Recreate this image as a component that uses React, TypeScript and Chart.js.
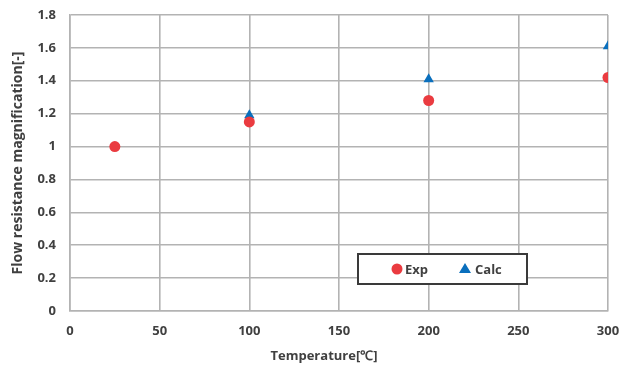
import React, { useEffect, useRef } from "react";
import { Chart, registerables } from "chart.js";

Chart.register(...registerables);

const expTemps = [25, 100, 200, 300];
const expValues = [1.0, 1.15, 1.28, 1.42];
const calcTemps = [100, 200, 300];
const calcValues = [1.19, 1.41, 1.61];
const xTitle = "Temperature[℃]";
const yTitle = "Flow resistance magnification[-]";

const RED = "#ea3b40";
const BLUE = "#0a6fbd";
const GRID = "#b3b3b3";
const TEXT = "#404040";
const FONT = "'Open Sans', Lato, sans-serif";

const legendPlugin = {
  id: "boxLegend",
  afterDraw(chart: any) {
    const { ctx, chartArea } = chart;
    ctx.save();
    ctx.fillStyle = TEXT;
    ctx.font = `bold 13px ${FONT}`;
    ctx.textAlign = "center";
    ctx.textBaseline = "middle";
    ctx.fillText(xTitle, chartArea.left + 254, 356);
    ctx.restore();

    const left = chartArea.left + 288;
    const top = chartArea.top + 239;
    const w = 169;
    const h = 30;
    ctx.save();
    ctx.fillStyle = "#ffffff";
    ctx.fillRect(left, top, w, h);
    ctx.strokeStyle = "#3a3a3a";
    ctx.lineWidth = 2;
    ctx.strokeRect(left, top, w, h);
    const cy = top + h / 2;
    ctx.fillStyle = RED;
    ctx.beginPath();
    ctx.arc(left + 39, cy, 5.5, 0, Math.PI * 2);
    ctx.fill();
    ctx.fillStyle = BLUE;
    ctx.beginPath();
    ctx.moveTo(left + 107, cy - 6);
    ctx.lineTo(left + 113, cy + 4);
    ctx.lineTo(left + 101, cy + 4);
    ctx.closePath();
    ctx.fill();
    ctx.fillStyle = TEXT;
    ctx.font = `bold 13px ${FONT}`;
    ctx.textBaseline = "middle";
    ctx.textAlign = "left";
    ctx.fillText(chart.data.datasets[0].label, left + 47, cy + 1);
    ctx.fillText(chart.data.datasets[1].label, left + 117, cy + 1);
    ctx.restore();
  },
};

export default function App() {
  const ref = useRef<HTMLCanvasElement | null>(null);
  useEffect(() => {
    if (!ref.current) return;
    const chart = new Chart(ref.current, {
      type: "scatter",
      data: {
        datasets: [
          {
            label: "Exp",
            data: expTemps.map((t, i) => ({ x: t, y: expValues[i] })),
            backgroundColor: RED,
            borderColor: RED,
            pointStyle: "circle",
            pointRadius: 5.5,
            borderWidth: 0,
          },
          {
            label: "Calc",
            data: calcTemps.map((t, i) => ({ x: t, y: calcValues[i] })),
            backgroundColor: BLUE,
            borderColor: BLUE,
            pointStyle: "triangle",
            pointRadius: 6,
            borderWidth: 0,
          },
        ],
      },
      options: {
        animation: false,
        responsive: false,
        layout: { padding: { left: 10, right: 27, top: 15, bottom: 0 } },
        plugins: {
          legend: { display: false },
          tooltip: { enabled: false },
        },
        scales: {
          x: {
            type: "linear",
            min: 0,
            max: 300,
            ticks: {
              stepSize: 50,
              color: TEXT,
              font: { family: FONT, size: 13, weight: "bold" },
              padding: 12,
            },
            grid: { color: GRID, lineWidth: 1.6, drawTicks: false },
            border: { color: GRID, width: 1.6 },
            title: { display: false, text: xTitle },
            afterFit(scale: any) {
              scale.height = 56;
            },
          },
          y: {
            type: "linear",
            min: 0,
            max: 1.8,
            ticks: {
              stepSize: 0.2,
              color: TEXT,
              font: { family: FONT, size: 13, weight: "bold" },
              padding: 14,
              callback: (v: any) => String(Number(Number(v).toFixed(1))),
            },
            grid: { color: GRID, lineWidth: 1.6, drawTicks: false },
            border: { color: GRID, width: 1.6 },
            title: {
              display: true,
              text: yTitle,
              color: TEXT,
              font: { family: FONT, size: 14, weight: "bold" },
              padding: { top: 0, bottom: 0 },
            },
            afterFit(scale: any) {
              scale.width = 60;
              scale.paddingTop = 0;
              scale.paddingBottom = 0;
            },
          },
        },
      },
      plugins: [legendPlugin],
    });
    return () => chart.destroy();
  }, []);
  return (
    <div style={{ position: "fixed", left: 0, top: 0, width: 635, height: 367, background: "#fff" }}>
      <canvas ref={ref} width={635} height={367} style={{ width: 635, height: 367 }} />
    </div>
  );
}
